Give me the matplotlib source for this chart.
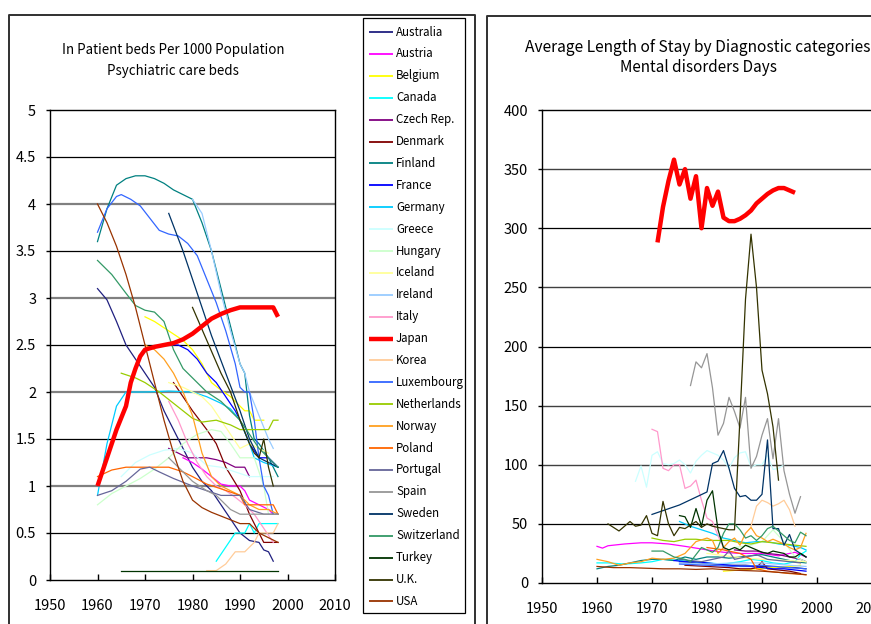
import matplotlib
matplotlib.use("Agg")
import matplotlib.pyplot as plt
from matplotlib.lines import Line2D
from matplotlib.patches import Rectangle

plt.rcParams["font.family"] = ["Noto Sans CJK JP", "DejaVu Sans"]

W, H = 871, 624

COUNTRIES = ["Australia", "Austria", "Belgium", "Canada", "Czech Rep.", "Denmark",
             "Finland", "France", "Germany", "Greece", "Hungary", "Iceland", "Ireland",
             "Italy", "Japan", "Korea", "Luxembourg", "Netherlands", "Norway", "Poland",
             "Portugal", "Spain", "Sweden", "Switzerland", "Turkey", "U.K.", "USA"]
COLORS = ["#202080", "#FF00FF", "#FFFF00", "#00FFFF", "#800080", "#800000",
          "#008080", "#0000FF", "#00CCFF", "#CCFFFF", "#CCFFCC", "#FFFF99", "#99CCFF",
          "#FF99CC", "#FF0000", "#FFCC99", "#3366FF", "#99CC00", "#FFA020", "#FF6600",
          "#666699", "#969696", "#003366", "#339966", "#003300", "#333300", "#993300"]

YEAR_TICKS = [1950, 1960, 1970, 1980, 1990, 2000, 2010]
BEDS_TICKS = [0, 0.5, 1, 1.5, 2, 2.5, 3, 3.5, 4, 4.5, 5]
STAY_TICKS = [0, 50, 100, 150, 200, 250, 300, 350, 400]

# psychiatric care beds per 1000 population: (year, beds)
beds_australia = [(1960, 3.1), (1962, 2.98), (1964, 2.75), (1966, 2.5), (1968, 2.35), (1970, 2.2),
                  (1972, 2.05), (1974, 1.8), (1976, 1.6), (1978, 1.4), (1980, 1.2), (1982, 1.05),
                  (1984, 0.95), (1986, 0.8), (1988, 0.65), (1990, 0.5), (1992, 0.42), (1994, 0.4),
                  (1995, 0.32), (1996, 0.3), (1997, 0.2)]
beds_austria = [(1978, 1.3), (1980, 1.25), (1982, 1.18), (1984, 1.1), (1986, 1.02), (1988, 1.0),
                (1990, 1.0), (1991, 0.95), (1992, 0.85), (1994, 0.8), (1996, 0.75), (1997, 0.7)]
beds_belgium = [(1970, 2.8), (1972, 2.75), (1975, 2.65), (1978, 2.55), (1980, 2.45), (1982, 2.3),
                (1984, 2.1), (1986, 2.02), (1988, 1.95), (1990, 1.85), (1991, 1.8), (1992, 1.8),
                (1993, 1.7), (1995, 1.7)]
beds_canada = [(1985, 0.2), (1987, 0.35), (1989, 0.5), (1991, 0.5), (1992, 0.6), (1993, 0.5),
               (1994, 0.6), (1996, 0.6), (1998, 0.6)]
beds_czech = [(1975, 1.4), (1977, 1.35), (1979, 1.3), (1981, 1.3), (1983, 1.3), (1985, 1.28),
              (1987, 1.25), (1989, 1.2), (1991, 1.2), (1992, 1.1)]
beds_denmark = [(1976, 2.1), (1980, 1.8), (1983, 1.6), (1985, 1.45), (1987, 1.2), (1990, 0.95),
                (1992, 0.7), (1994, 0.5), (1995, 0.4), (1998, 0.4)]
beds_finland = [(1960, 3.6), (1962, 3.95), (1964, 4.2), (1966, 4.27), (1968, 4.3), (1970, 4.3),
                (1972, 4.27), (1974, 4.22), (1976, 4.15), (1978, 4.1), (1980, 4.05), (1982, 3.8),
                (1984, 3.5), (1986, 3.1), (1988, 2.7), (1990, 2.3), (1991, 2.2), (1992, 1.75),
                (1993, 1.5), (1994, 1.45), (1996, 1.3), (1998, 1.1)]
beds_france = [(1975, 2.5), (1977, 2.5), (1979, 2.45), (1981, 2.35), (1983, 2.2), (1985, 2.1),
               (1987, 1.95), (1989, 1.8), (1990, 1.7), (1992, 1.45), (1994, 1.3), (1996, 1.3),
               (1998, 1.2)]
beds_germany = [(1960, 0.9), (1962, 1.45), (1964, 1.85), (1966, 2.0), (1970, 2.0), (1975, 2.01),
                (1980, 2.0), (1983, 1.95), (1986, 1.88), (1988, 1.82), (1990, 1.7), (1992, 1.45),
                (1993, 1.3), (1995, 1.25), (1998, 1.2)]
beds_greece = [(1965, 1.1), (1968, 1.25), (1971, 1.33), (1974, 1.38), (1977, 1.4), (1980, 1.35),
               (1983, 1.22), (1986, 1.2), (1989, 1.15), (1992, 1.1), (1995, 1.1), (1997, 1.1)]
beds_hungary = [(1960, 0.8), (1963, 0.92), (1966, 1.0), (1969, 1.08), (1972, 1.18), (1975, 1.3),
                (1978, 1.45), (1981, 1.55), (1984, 1.6), (1986, 1.58), (1988, 1.45), (1990, 1.3),
                (1993, 1.3), (1995, 1.0), (1996, 0.7)]
beds_iceland = [(1975, 2.1), (1978, 2.05), (1980, 2.0), (1982, 1.95), (1984, 1.85), (1986, 1.7),
                (1988, 1.55), (1990, 1.4), (1992, 1.45), (1994, 1.4), (1996, 1.35)]
beds_ireland = [(1980, 4.05), (1982, 3.9), (1984, 3.5), (1986, 3.05), (1988, 2.65), (1990, 2.3),
                (1991, 2.2), (1992, 2.0), (1994, 1.75), (1996, 1.5), (1997, 1.4)]
beds_italy = [(1975, 1.9), (1977, 1.7), (1979, 1.45), (1981, 1.25), (1983, 1.1), (1985, 1.0),
              (1987, 0.95), (1989, 0.88), (1991, 0.8), (1993, 0.7), (1995, 0.55), (1997, 0.4)]
beds_japan = [(1960, 1.0), (1962, 1.3), (1964, 1.6), (1966, 1.85), (1967, 2.1), (1968, 2.25),
              (1969, 2.38), (1970, 2.45), (1972, 2.48), (1974, 2.5), (1976, 2.52), (1978, 2.56),
              (1980, 2.62), (1982, 2.7), (1984, 2.78), (1986, 2.83), (1988, 2.87), (1990, 2.9),
              (1992, 2.9), (1994, 2.9), (1996, 2.9), (1997, 2.9), (1998, 2.8)]
beds_korea = [(1983, 0.1), (1985, 0.1), (1987, 0.17), (1989, 0.3), (1991, 0.3), (1993, 0.4),
              (1994, 0.5), (1996, 0.5), (1997, 0.5), (1998, 0.6)]
beds_luxembourg = [(1960, 3.7), (1962, 3.95), (1964, 4.08), (1965, 4.1), (1967, 4.05), (1969, 3.98),
                   (1971, 3.85), (1973, 3.72), (1975, 3.68), (1977, 3.66), (1979, 3.58), (1981, 3.45),
                   (1983, 3.2), (1985, 2.95), (1987, 2.65), (1989, 2.3), (1990, 2.05), (1991, 2.0),
                   (1992, 2.0), (1993, 1.7), (1994, 1.3), (1995, 1.0), (1996, 0.9), (1997, 0.7)]
beds_netherlands = [(1965, 2.2), (1968, 2.15), (1970, 2.1), (1973, 2.0), (1976, 1.88), (1978, 1.8),
                    (1980, 1.72), (1982, 1.68), (1985, 1.7), (1988, 1.65), (1990, 1.6), (1993, 1.6),
                    (1996, 1.6), (1997, 1.7), (1998, 1.7)]
beds_norway = [(1970, 2.5), (1972, 2.45), (1974, 2.35), (1976, 2.2), (1978, 2.0), (1980, 1.75),
               (1982, 1.35), (1984, 1.1), (1986, 1.0), (1988, 0.95), (1990, 0.9), (1992, 0.8),
               (1994, 0.75), (1996, 0.75), (1998, 0.7)]
beds_poland = [(1960, 1.1), (1963, 1.17), (1966, 1.2), (1970, 1.2), (1975, 1.2), (1978, 1.15),
               (1980, 1.1), (1983, 1.02), (1986, 0.97), (1990, 0.9), (1991, 0.8), (1993, 0.8),
               (1995, 0.8), (1997, 0.8), (1998, 0.7)]
beds_portugal = [(1960, 0.9), (1963, 0.95), (1966, 1.05), (1969, 1.18), (1971, 1.2), (1973, 1.15),
                 (1976, 1.08), (1980, 1.0), (1983, 0.95), (1986, 0.9), (1990, 0.9), (1992, 0.75),
                 (1995, 0.7), (1998, 0.7)]
beds_spain = [(1975, 1.3), (1978, 1.15), (1980, 1.05), (1983, 0.95), (1985, 0.9), (1988, 0.75),
              (1990, 0.7), (1993, 0.7), (1995, 0.7), (1998, 0.7)]
beds_sweden = [(1975, 3.9), (1978, 3.5), (1981, 3.05), (1984, 2.6), (1987, 2.2), (1990, 1.8),
               (1992, 1.5), (1994, 1.3), (1996, 1.25), (1998, 1.2)]
beds_switzerland = [(1960, 3.4), (1963, 3.25), (1966, 3.05), (1968, 2.92), (1970, 2.87), (1972, 2.85),
                    (1974, 2.75), (1976, 2.45), (1978, 2.25), (1980, 2.15), (1983, 2.0), (1986, 1.9),
                    (1988, 1.8), (1990, 1.7), (1992, 1.55), (1994, 1.4), (1996, 1.3), (1998, 1.2)]
beds_turkey = [(1965, 0.1), (1975, 0.1), (1985, 0.1), (1998, 0.1)]
beds_uk = [(1980, 2.9), (1983, 2.55), (1986, 2.2), (1988, 2.0), (1990, 1.7), (1992, 1.45),
           (1993, 1.35), (1994, 1.3), (1995, 1.5), (1996, 1.2), (1997, 1.0)]
beds_usa = [(1960, 4.0), (1962, 3.8), (1964, 3.55), (1966, 3.25), (1968, 2.9), (1970, 2.5),
            (1972, 2.1), (1974, 1.7), (1976, 1.35), (1978, 1.05), (1980, 0.85), (1982, 0.77),
            (1984, 0.72), (1986, 0.68), (1988, 0.64), (1990, 0.6), (1992, 0.6), (1994, 0.5),
            (1996, 0.45), (1998, 0.4)]

# average length of stay, mental disorders: (year, days)
stay_australia = [(1975, 18), (1978, 17), (1981, 16), (1984, 15), (1987, 15), (1990, 14),
                  (1993, 13), (1996, 13), (1998, 12)]
stay_austria = [(1960, 31), (1961, 29.5), (1962, 31.5), (1965, 33), (1968, 34), (1970, 34),
                (1973, 33), (1976, 31), (1980, 28), (1983, 26), (1986, 25), (1990, 25),
                (1993, 23), (1996, 26), (1998, 22)]
stay_belgium = [(1983, 10), (1986, 11), (1989, 12), (1992, 13), (1995, 14), (1997, 15)]
stay_canada = [(1960, 17), (1962, 17), (1965, 16), (1968, 17), (1970, 18), (1972, 20), (1975, 19),
               (1978, 18), (1980, 17), (1983, 16), (1986, 18), (1988, 20), (1990, 19), (1992, 17),
               (1994, 16), (1996, 18), (1997, 24), (1998, 27)]
stay_czech = [(1985, 28), (1987, 27), (1989, 27), (1991, 25), (1993, 24), (1995, 22), (1997, 20),
              (1998, 18)]
stay_denmark = [(1976, 15), (1980, 14), (1984, 13), (1986, 12), (1988, 12), (1989, 13), (1990, 18),
                (1991, 12), (1993, 11), (1995, 10), (1997, 8)]
stay_finland = [(1960, 12), (1962, 14), (1964, 15), (1966, 17), (1968, 19), (1970, 20), (1972, 20),
                (1974, 19), (1976, 22), (1978, 20), (1980, 22), (1982, 22), (1984, 21), (1986, 22),
                (1988, 23), (1990, 24), (1992, 22), (1994, 20), (1996, 18), (1998, 17)]
stay_france = [(1974, 19), (1976, 18), (1978, 18), (1980, 17), (1982, 16), (1984, 15), (1986, 14),
               (1988, 14), (1990, 13), (1992, 12), (1994, 12), (1996, 11), (1998, 10)]
stay_germany = [(1975, 52), (1977, 48), (1979, 45), (1981, 42), (1983, 38), (1985, 36), (1987, 34),
                (1989, 35), (1991, 35), (1993, 33), (1995, 32), (1997, 30), (1998, 28)]
stay_greece = [(1967, 86), (1968, 99), (1969, 81), (1970, 108), (1971, 111), (1972, 101), (1973, 100),
               (1974, 101), (1975, 104), (1976, 100), (1977, 93), (1978, 103), (1979, 108),
               (1980, 112), (1981, 110), (1982, 108), (1983, 104), (1984, 97), (1985, 106),
               (1986, 110), (1987, 111), (1988, 98), (1989, 100), (1990, 100), (1991, 108),
               (1992, 96), (1993, 97), (1994, 100)]
stay_hungary = [(1985, 30), (1988, 32), (1990, 35), (1992, 45), (1994, 35), (1996, 22), (1998, 18)]
stay_iceland = [(1980, 25), (1985, 22), (1990, 20), (1995, 19), (1998, 18)]
stay_ireland = [(1975, 17), (1980, 16), (1985, 17), (1990, 17), (1995, 15), (1998, 14)]
stay_italy = [(1970, 130), (1971, 128), (1972, 97), (1973, 95), (1974, 100), (1975, 100), (1976, 80),
              (1977, 82), (1978, 87), (1979, 70), (1980, 55), (1981, 52), (1982, 40), (1983, 30),
              (1984, 25)]
stay_japan = [(1971, 288), (1972, 318), (1973, 340), (1974, 358), (1975, 337), (1976, 350),
              (1977, 325), (1978, 344), (1979, 300), (1980, 334), (1981, 319), (1982, 331),
              (1983, 309), (1984, 306), (1985, 306), (1986, 308), (1987, 311), (1988, 315),
              (1989, 321), (1990, 325), (1991, 329), (1992, 332), (1993, 334), (1994, 334),
              (1995, 332), (1996, 330)]
stay_korea = [(1988, 48), (1989, 65), (1990, 70), (1991, 68), (1992, 65), (1993, 67), (1994, 70),
              (1995, 62), (1996, 48)]
stay_luxembourg = [(1975, 16), (1980, 15), (1985, 14), (1990, 15), (1995, 13), (1998, 12)]
stay_netherlands = [(1970, 38), (1972, 36), (1974, 35), (1976, 37), (1978, 37), (1980, 36),
                    (1982, 36), (1984, 36), (1986, 34), (1988, 33), (1990, 35), (1992, 34),
                    (1994, 33), (1996, 32), (1998, 31)]
stay_norway = [(1960, 20), (1962, 18), (1964, 15), (1966, 17), (1968, 18), (1970, 21), (1972, 20),
               (1974, 21), (1976, 25), (1978, 35), (1980, 38), (1981, 36), (1982, 25), (1983, 30),
               (1984, 35), (1985, 38), (1986, 32), (1987, 42), (1988, 47), (1989, 40), (1990, 38),
               (1991, 35), (1992, 37), (1993, 35), (1994, 33), (1995, 30), (1996, 28), (1997, 30),
               (1998, 42)]
stay_poland = [(1980, 30), (1983, 28), (1986, 25), (1988, 20), (1989, 12), (1991, 10), (1993, 9),
               (1995, 8), (1998, 7)]
stay_portugal = [(1975, 20), (1977, 19), (1979, 18), (1981, 20), (1983, 22), (1984, 27), (1985, 20),
                 (1987, 22), (1989, 24), (1991, 20), (1993, 19), (1995, 18), (1997, 17)]
stay_spain = [(1977, 167), (1978, 187), (1979, 182), (1980, 194), (1981, 165), (1982, 125),
              (1983, 135), (1984, 157), (1985, 145), (1986, 131), (1987, 157), (1988, 97),
              (1989, 107), (1990, 125), (1991, 139), (1992, 105), (1993, 139), (1994, 95),
              (1995, 75), (1996, 59), (1997, 73)]
stay_sweden = [(1970, 58), (1975, 66), (1980, 77), (1981, 101), (1982, 103), (1983, 112), (1984, 97),
               (1985, 80), (1986, 73), (1987, 74), (1988, 70), (1989, 70), (1990, 75), (1991, 121),
               (1992, 46), (1993, 46), (1994, 32), (1995, 41), (1996, 28), (1997, 25), (1998, 22)]
stay_switzerland = [(1970, 27), (1972, 27), (1974, 22), (1976, 20), (1977, 18), (1978, 24),
                    (1979, 30), (1980, 28), (1981, 26), (1982, 30), (1983, 42), (1984, 50),
                    (1985, 50), (1986, 45), (1987, 38), (1988, 40), (1989, 36), (1990, 40),
                    (1991, 46), (1992, 48), (1993, 44), (1994, 40), (1995, 36), (1996, 34),
                    (1997, 43), (1998, 40)]
stay_turkey = [(1975, 57), (1976, 56), (1977, 47), (1978, 63), (1979, 48), (1980, 70), (1981, 78),
               (1982, 45), (1983, 30), (1984, 28), (1985, 30), (1986, 28), (1987, 32), (1988, 30),
               (1989, 28), (1990, 26), (1991, 25), (1992, 27), (1993, 26), (1994, 25), (1995, 22),
               (1996, 22), (1997, 25), (1998, 22)]
stay_uk = [(1962, 50), (1963, 47), (1964, 44), (1965, 48), (1966, 52), (1967, 48), (1968, 49),
           (1969, 57), (1970, 42), (1971, 40), (1972, 69), (1973, 50), (1974, 40), (1975, 47),
           (1976, 46), (1977, 49), (1978, 52), (1979, 47), (1980, 50), (1981, 48), (1982, 47),
           (1983, 46), (1984, 45), (1985, 45), (1986, 140), (1987, 240), (1988, 295), (1989, 250),
           (1990, 180), (1991, 160), (1992, 132), (1993, 87)]
stay_usa = [(1960, 14), (1963, 13), (1966, 13), (1969, 12.5), (1972, 12), (1975, 12), (1978, 11.5),
            (1981, 12), (1984, 11), (1987, 10.5), (1990, 10), (1993, 9), (1996, 8), (1998, 7)]

BEDS = [beds_australia, beds_austria, beds_belgium, beds_canada, beds_czech, beds_denmark,
        beds_finland, beds_france, beds_germany, beds_greece, beds_hungary, beds_iceland,
        beds_ireland, beds_italy, beds_japan, beds_korea, beds_luxembourg, beds_netherlands,
        beds_norway, beds_poland, beds_portugal, beds_spain, beds_sweden, beds_switzerland,
        beds_turkey, beds_uk, beds_usa]
STAY = [stay_australia, stay_austria, stay_belgium, stay_canada, stay_czech, stay_denmark,
        stay_finland, stay_france, stay_germany, stay_greece, stay_hungary, stay_iceland,
        stay_ireland, stay_italy, stay_japan, stay_korea, stay_luxembourg, stay_netherlands,
        stay_norway, stay_poland, stay_portugal, stay_spain, stay_sweden, stay_switzerland,
        stay_turkey, stay_uk, stay_usa]


def fx(px):
    return px / W


def fy(py):
    return 1 - py / H


def panel(ax, series, yticks, grey_grid, grey_color, grey_lw):
    for name, color, pts in zip(COUNTRIES, COLORS, series):
        if not pts:
            continue
        xs = [p[0] for p in pts]
        ys = [p[1] for p in pts]
        if name == "Japan":
            ax.plot(xs, ys, color=color, lw=3.2, zorder=5, solid_capstyle="butt")
        else:
            ax.plot(xs, ys, color=color, lw=0.9, zorder=3)
    for v in yticks[1:-1]:
        if v in grey_grid:
            ax.axhline(v, color=grey_color, lw=grey_lw, zorder=1)
        else:
            ax.axhline(v, color="black", lw=0.9, zorder=1)
    ax.set_xlim(YEAR_TICKS[0], YEAR_TICKS[-1])
    ax.set_ylim(yticks[0], yticks[-1])
    ax.set_xticks(YEAR_TICKS)
    ax.set_yticks(yticks)
    ax.set_yticklabels([f"{v:g}" for v in yticks])
    ax.tick_params(axis="x", direction="in", length=4, width=1, pad=14, labelsize=10.5)
    ax.tick_params(axis="y", direction="out", length=3, width=1, pad=7, labelsize=10.5)
    for s in ax.spines.values():
        s.set_color("black")
        s.set_linewidth(1.0)
    ax.set_facecolor("white")


fig = plt.figure(figsize=(W / 100, H / 100), dpi=100, facecolor="white")

# chart frames
fig.add_artist(Line2D([fx(8.5), fx(8.5), fx(475), fx(475)], [-0.02, fy(15), fy(15), -0.02],
                      transform=fig.transFigure, color="#303030", lw=1.4))
fig.add_artist(Line2D([fx(486.5), fx(486.5), 1.02], [-0.02, fy(16), fy(16)],
                      transform=fig.transFigure, color="#303030", lw=1.4))

ax1 = fig.add_axes([fx(50), fy(580), fx(335) - fx(50), fy(110) - fy(580)])
panel(ax1, BEDS, BEDS_TICKS, [1, 2, 3, 4], "#808080", 1.6)

ax2 = fig.add_axes([fx(542), fy(583), fx(872) - fx(542), fy(110) - fy(583)])
panel(ax2, STAY, STAY_TICKS, [100, 150, 250, 350], "#404040", 1.0)

fig.text(fx(173), fy(50), "In Patient beds Per 1000 Population", ha="center", va="center", fontsize=9.6)
fig.text(fx(173), fy(71), "Psychiatric care beds", ha="center", va="center", fontsize=9.6)
fig.text(fx(698), fy(47), "Average Length of Stay by Diagnostic categories", ha="center", va="center", fontsize=11.2)
fig.text(fx(698), fy(67), "Mental disorders Days", ha="center", va="center", fontsize=11)

# legend box drawn by hand so rows match the reference spacing
fig.add_artist(Rectangle((fx(363), fy(613)), fx(465) - fx(363), fy(18) - fy(613),
                         transform=fig.transFigure, facecolor="white", edgecolor="black", lw=0.9))
row0, step = 32, 21.9
for i, (name, color) in enumerate(zip(COUNTRIES, COLORS)):
    yy = fy(row0 + i * step)
    fig.add_artist(Line2D([fx(369), fx(393)], [yy, yy], transform=fig.transFigure, color=color,
                          lw=(3.2 if name == "Japan" else 1.3), solid_capstyle="butt"))
    fig.text(fx(396), yy, name, ha="left", va="center", fontsize=8.3)

fig.savefig("out.png", dpi=100, facecolor="white")
